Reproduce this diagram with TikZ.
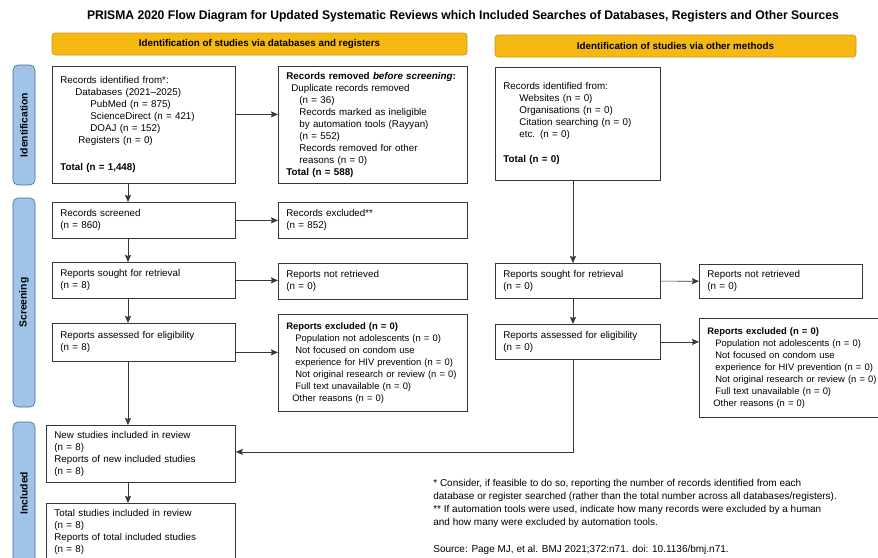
\documentclass[tikz,border=0pt]{standalone}
\usepackage{fontspec}
\setmainfont{Liberation Sans}
\newfontfamily\condfont[FakeStretch=0.97]{Liberation Sans}
\usetikzlibrary{arrows.meta}

\definecolor{hdrfill}{RGB}{246,184,18}
\definecolor{hdrline}{RGB}{205,150,20}
\definecolor{phasefill}{RGB}{160,196,232}
\definecolor{phaseline}{RGB}{72,108,150}
\definecolor{boxline}{RGB}{55,55,55}

\tikzset{
  box/.style={draw=boxline, line width=0.8pt, fill=white, anchor=north west, align=left,
    inner xsep=8pt, inner ysep=0pt, font=\fontsize{9.8}{12}\selectfont},
  exclbox/.style={box, font=\fontsize{9.4}{12}\selectfont},
  hdr/.style={draw=hdrline, fill=hdrfill, rounded corners=3pt, line width=0.6pt,
    minimum height=22pt, inner sep=0pt, font=\bfseries\fontsize{9.8}{11}\selectfont},
  phase/.style={draw=phaseline, fill=phasefill, rounded corners=5pt, line width=0.6pt,
    rotate=90, minimum height=22pt, inner sep=0pt, font=\bfseries\fontsize{10.3}{11}\selectfont},
}

\begin{document}
\begin{tikzpicture}[x=1pt,y=-1pt,->,>={Stealth[length=7pt,width=6pt,inset=1pt]},line width=0.7pt,draw=boxline]
  \useasboundingbox (0,0) rectangle (878,557);

  \node (title) at (463,16) {\condfont\bfseries\fontsize{12.5}{14}\selectfont PRISMA 2020 Flow Diagram for Updated Systematic Reviews which Included Searches of Databases, Registers and Other Sources};

  % headers
  \node[hdr, minimum width=415pt] (hdrA) at (259.5,44) {Identification of studies via databases and registers};
  \node[hdr, minimum width=361pt] (hdrB) at (675.5,46) {Identification of studies via other methods};

  % phases
  \node[phase, minimum width=120pt] (phId) at (24,125) {Identification};
  \node[phase, minimum width=209pt] (phSc) at (24,302.5) {Screening};
  \node[phase, minimum width=142pt] (phIn) at (24,493) {Included};

  % databases and registers
  \node[box, text width=167pt, minimum height=117pt] (recdb) at (52,66) {Records identified from*:\\
    \hspace*{15pt}Databases (2021--2025)\\
    \hspace*{30pt}PubMed (n = 875)\\
    \hspace*{30pt}ScienceDirect (n = 421)\\
    \hspace*{30pt}DOAJ (n = 152)\\
    \hspace*{18pt}Registers (n = 0)\\[15pt]
    \textbf{Total (n = 1,448)}};
  \node[box, text width=173pt, minimum height=117pt] (removed) at (278,66) {\textbf{Records removed \textit{before screening}:}\\
    \hspace*{5pt}Duplicate records removed\\
    \hspace*{13pt}(n = 36)\\
    \hspace*{13pt}Records marked as ineligible\\
    \hspace*{13pt}by automation tools (Rayyan)\\
    \hspace*{13pt}(n = 552)\\
    \hspace*{13pt}Records removed for other\\
    \hspace*{13pt}reasons (n = 0)\\
    \textbf{Total (n = 588)}};
  \node[box, text width=167pt, minimum height=36pt] (screened) at (52,202) {Records screened\\(n = 860)};
  \node[box, text width=173pt, minimum height=36pt] (excluded) at (278,202) {Records excluded**\\(n = 852)};
  \node[box, text width=167pt, minimum height=36pt] (sought) at (52,262) {Reports sought for retrieval\\(n = 8)};
  \node[box, text width=173pt, minimum height=36pt] (notretr) at (278,263) {Reports not retrieved\\(n = 0)};
  \node[box, text width=167pt, minimum height=38pt] (assessed) at (52,323) {Reports assessed for eligibility\\(n = 8)};
  \node[exclbox, text width=173pt, minimum height=97pt] (repexcl) at (278,314) {\textbf{Reports excluded (n = 0)}\\
    \hspace*{9pt}\mbox{Population not adolescents (n = 0)}\\
    \hspace*{9pt}Not focused on condom use\\
    \hspace*{9pt}\mbox{experience for HIV prevention (n = 0)}\\
    \hspace*{9pt}\mbox{Not original research or review (n = 0)}\\
    \hspace*{9pt}Full text unavailable (n = 0)\\
    \hspace*{6pt}Other reasons (n = 0)};
  \node[box, text width=173pt, minimum height=57pt] (newinc) at (46,425) {New studies included in review\\(n = 8)\\Reports of new included studies\\(n = 8)};
  \node[box, text width=173pt, minimum height=58pt] (totinc) at (46,503) {Total studies included in review\\(n = 8)\\Reports of total included studies\\(n = 8)};

  % other methods
  \node[box, text width=149pt, minimum height=113pt] (recother) at (495,67) {Records identified from:\\
    \hspace*{16pt}Websites (n = 0)\\
    \hspace*{16pt}Organisations (n = 0)\\
    \hspace*{16pt}Citation searching (n = 0)\\
    \hspace*{16pt}etc. (n = 0)\\[13pt]
    \textbf{Total (n = 0)}};
  \node[box, text width=149pt, minimum height=35pt] (soughtB) at (495,263) {Reports sought for retrieval\\(n = 0)};
  \node[box, text width=147pt, minimum height=34pt] (notretrB) at (699,264) {Reports not retrieved\\(n = 0)};
  \node[box, text width=149pt, minimum height=35pt] (assessedB) at (495,324) {Reports assessed for eligibility\\(n = 0)};
  \node[exclbox, text width=174pt, minimum height=99pt] (repexclB) at (699,318) {\textbf{Reports excluded (n = 0)}\\
    \hspace*{8pt}\mbox{Population not adolescents (n = 0)}\\
    \hspace*{8pt}Not focused on condom use\\
    \hspace*{8pt}\mbox{experience for HIV prevention (n = 0)}\\
    \hspace*{8pt}\mbox{Not original research or review (n = 0)}\\
    \hspace*{8pt}Full text unavailable (n = 0)\\
    \hspace*{6pt}Other reasons (n = 0)};

  % notes
  \node[anchor=north west, align=left, inner sep=0pt, font=\fontsize{10}{13}\selectfont] (notes) at (433,479)
    {* Consider, if feasible to do so, reporting the number of records identified from each\\
     database or register searched (rather than the total number across all databases/registers).\\
     ** If automation tools were used, indicate how many records were excluded by a human\\
     and how many were excluded by automation tools.};
  \node[anchor=west, inner sep=0pt, font=\fontsize{10}{13}\selectfont] (source) at (433,549.5)
    {Source: Page MJ, et al. BMJ 2021;372:n71. doi: 10.1136/bmj.n71.};

  \coordinate (colA) at (128,0);
  \coordinate (colB) at (573,0);

  \path ([yshift=10.5pt]recdb.east) edge ([yshift=10.5pt]recdb.east -| removed.west);
  \path (recdb.south -| colA) edge (screened.north -| colA);
  \path (screened) edge (excluded);
  \path (screened.south -| colA) edge (sought.north -| colA);
  \path (sought.east) edge (sought.east -| notretr.west);
  \path (sought.south -| colA) edge (assessed.north -| colA);
  \path ([yshift=-10pt]assessed.east) edge ([yshift=-10pt]assessed.east -| repexcl.west);
  \path (assessed.south -| colA) edge (newinc.north -| colA);
  \path (newinc.south -| colA) edge (totinc.north -| colA);

  \path (recother.south -| colB) edge (soughtB.north -| colB);
  \path (soughtB) edge (notretrB);
  \path (soughtB.south -| colB) edge (assessedB.north -| colB);
  \path (assessedB.east) edge (assessedB.east -| repexclB.west);
  \draw (assessedB.south -| colB) |- ([yshift=2pt]newinc.east);
\end{tikzpicture}
\end{document}
